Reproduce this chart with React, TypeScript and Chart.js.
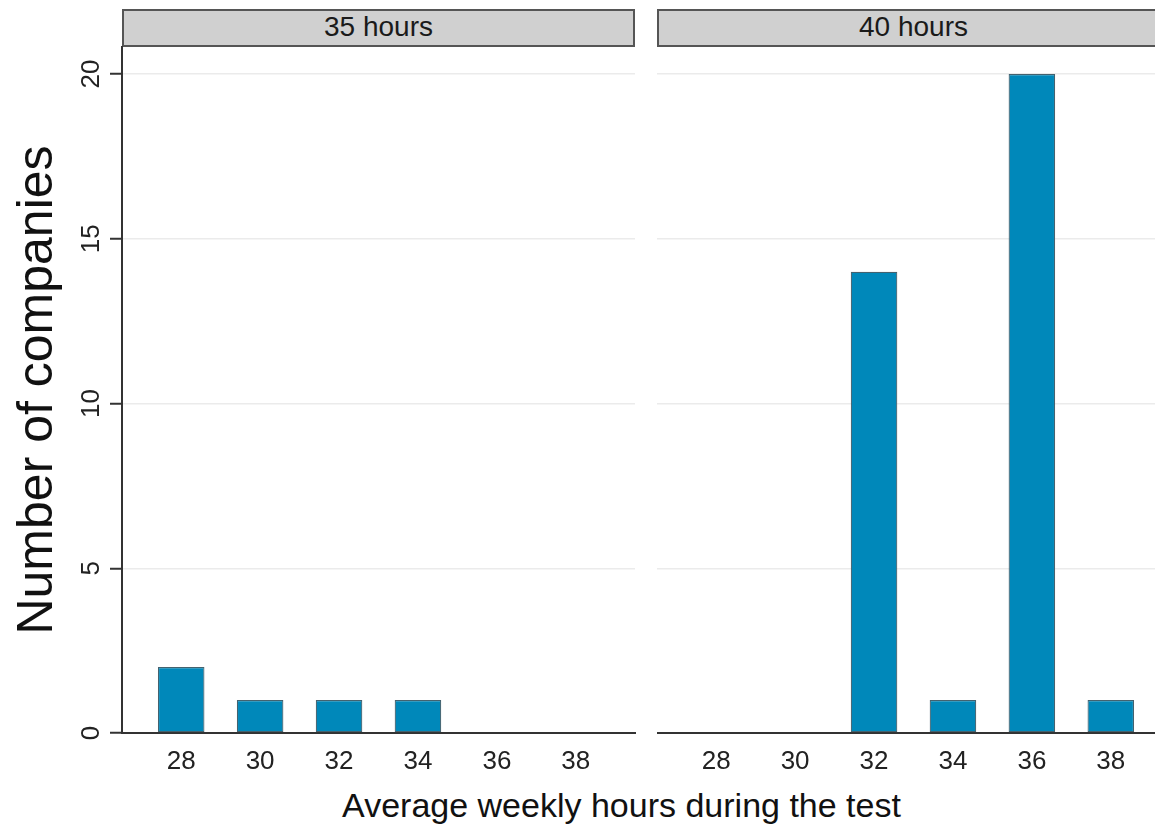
import React, { useEffect, useRef } from "react";
import { Chart, registerables } from "chart.js";
Chart.register(...registerables);

// ---- data ----
const hours = [28, 30, 32, 34, 36, 38];
const companies35 = [2, 1, 1, 1, 0, 0];
const companies40 = [0, 0, 14, 1, 20, 1];
const yTicks = [0, 5, 10, 15, 20];
const panelTitles = ["35 hours", "40 hours"];
const xTitle = "Average weekly hours during the test";
const yTitle = "Number of companies";

const FONT = "'Liberation Sans', Arial, Helvetica, sans-serif";
const BAR_FILL = "#0088BA";
const BAR_EDGE = "#44626f";
const AXIS = "#333333";
const GRID = "#ebebeb";

function makeConfig(values: number[], showY: boolean): any {
  return {
    type: "bar",
    data: {
      datasets: [
        {
          data: hours.map((h, i) => ({ x: h, y: values[i] })),
          backgroundColor: BAR_FILL,
          borderColor: BAR_EDGE,
          borderWidth: 1.2,
          borderSkipped: false,
          barPercentage: 0.59,
          categoryPercentage: 1,
        },
      ],
    },
    options: {
      responsive: true,
      maintainAspectRatio: false,
      animation: false,
      layout: { padding: { top: 47, right: 5, left: 0, bottom: 0 } },
      plugins: { legend: { display: false }, tooltip: { enabled: false } },
      scales: {
        x: {
          type: "linear",
          offset: false,
          min: 26.5,
          max: 39.5,
          afterBuildTicks: (s: any) => {
            s.ticks = hours.map((v) => ({ value: v }));
          },
          afterFit: (s: any) => {
            s.height = 97;
          },
          grid: { offset: false, drawOnChartArea: false, drawTicks: false },
          border: { display: true, color: AXIS, width: 2 },
          ticks: {
            font: { family: FONT, size: 26 },
            color: "#222",
            padding: 13,
            maxRotation: 0,
            callback: (v: any) => String(v),
          },
        },
        y: {
          type: "linear",
          min: 0,
          max: 20.82,
          afterBuildTicks: (s: any) => {
            s.ticks = yTicks.map((v) => ({ value: v }));
          },
          afterFit: (s: any) => {
            s.width = showY ? 122 : 0;
          },
          grid: {
            color: (ctx: any) => (ctx.tick && ctx.tick.value === 0 ? "rgba(0,0,0,0)" : GRID),
            lineWidth: 1.5,
            drawTicks: showY,
            tickLength: 12,
            tickColor: AXIS,
            tickWidth: 2,
          },
          border: { display: showY, color: AXIS, width: 2 },
          ticks: {
            display: showY,
            font: { family: FONT, size: 26 },
            color: "#222",
            padding: 4,
            minRotation: 90,
            maxRotation: 90,
            crossAlign: "center",
            callback: (v: any) => String(v),
          },
          title: {
            display: showY,
            text: yTitle,
            font: { family: FONT, size: 50, lineHeight: 1 },
            color: "#111",
            padding: { top: 13, bottom: 0 },
          },
        },
      },
    },
  };
}

function Panel({ values, showY, left, width }: { values: number[]; showY: boolean; left: number; width: number }) {
  const ref = useRef<HTMLCanvasElement | null>(null);
  useEffect(() => {
    if (!ref.current) return;
    const chart = new Chart(ref.current, makeConfig(values, showY));
    return () => chart.destroy();
  }, [values, showY]);
  return (
    <div style={{ position: "absolute", left, top: 0, width, height: 830 }}>
      <canvas ref={ref} />
    </div>
  );
}

function Strip({ text, left }: { text: string; left: number }) {
  return (
    <div
      style={{
        position: "absolute",
        left,
        top: 9,
        width: 513,
        height: 38,
        boxSizing: "border-box",
        background: "#d0d0d0",
        border: "2px solid #555",
        fontFamily: FONT,
        fontSize: 28,
        lineHeight: "31px",
        paddingBottom: 3,
        textAlign: "center",
        color: "#1a1a1a",
        whiteSpace: "nowrap",
      }}
    >
      {text}
    </div>
  );
}

export default function App() {
  return (
    <div
      style={{
        position: "absolute",
        left: 0,
        top: 0,
        width: 1155,
        height: 830,
        overflow: "hidden",
        background: "#ffffff",
      }}
    >
      <Strip text={panelTitles[0]} left={122} />
      <Strip text={panelTitles[1]} left={657} />
      <div
        style={{
          position: "absolute",
          left: 621.5,
          top: 788,
          transform: "translateX(-50%)",
          fontFamily: FONT,
          fontSize: 34,
          lineHeight: "34px",
          color: "#111",
          whiteSpace: "nowrap",
        }}
      >
        {xTitle}
      </div>
      <Panel values={companies35} showY={true} left={0} width={640} />
      <Panel values={companies40} showY={false} left={657} width={518} />
    </div>
  );
}
